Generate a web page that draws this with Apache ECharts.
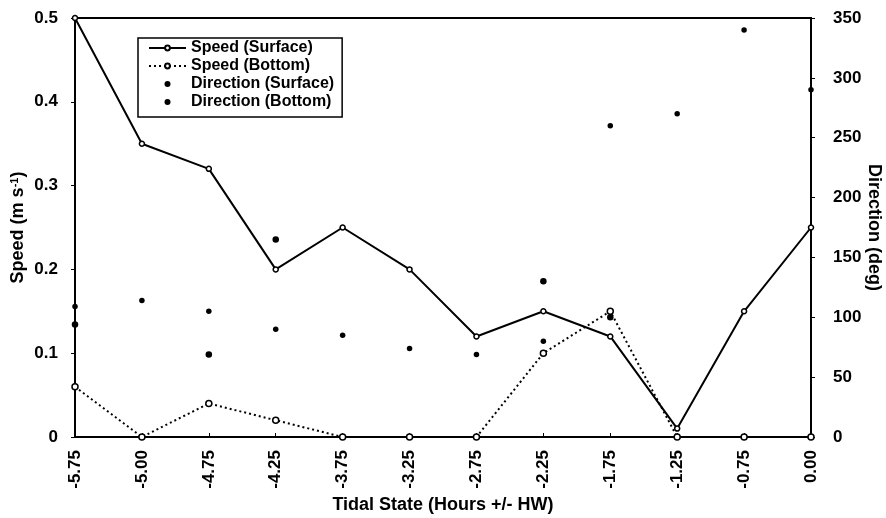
<!DOCTYPE html>
<html><head><meta charset="utf-8">
<script src="https://cdn.jsdelivr.net/npm/echarts@6/dist/echarts.min.js"></script>
<style>html,body{margin:0;padding:0;background:#fff}#c{width:886px;height:518px}</style>
</head><body><div id="c"></div>
<script>
var categories = ['-5.75','-5.00','-4.75','-4.25','-3.75','-3.25','-2.75','-2.25','-1.75','-1.25','-0.75','0.00'];
var speedSurface = [0.5,0.35,0.32,0.2,0.25,0.2,0.12,0.15,0.12,0.01,0.15,0.25];
var speedBottom  = [0.06,0,0.04,0.02,0,0,0,0.1,0.15,0,0,0];
var dirSurface   = [109,114,105,90,85,74,69,80,260,270,340,290];
var dirBottom    = [94,null,69,165,null,null,null,130,100,null,null,null];

var FONT = '"Liberation Sans", Arial, sans-serif';
var chart = echarts.init(document.getElementById('c'));
chart.setOption({
  animation:false,
  backgroundColor:'#fff',
  textStyle:{fontFamily:FONT},
  grid:{left:75,right:75,top:18,bottom:81,show:true,borderColor:'#000',borderWidth:2,
        containLabel:false,outerBoundsMode:'none'},
  legend:{
    orient:'vertical',left:138,top:38,
    borderColor:'#000',borderWidth:1.5,
    padding:[2,8,7,10],itemGap:2,itemWidth:37,itemHeight:6,
    textStyle:{fontFamily:FONT,fontWeight:'bold',fontSize:16,lineHeight:16,color:'#000'},
    data:['Speed (Surface)','Speed (Bottom)','Direction (Surface)','Direction (Bottom)']
  },
  xAxis:{
    type:'category',data:categories,boundaryGap:false,
    name:'Tidal State (Hours +/- HW)',nameLocation:'middle',nameGap:59,nameMoveOverlap:false,
    nameTextStyle:{fontFamily:FONT,fontWeight:'bold',fontSize:18,color:'#000'},
    axisLine:{lineStyle:{color:'#000',width:2}},
    axisTick:{show:true,alignWithLabel:true,length:4,inside:true,lineStyle:{color:'#000'}},
    axisLabel:{rotate:90,margin:13,fontFamily:FONT,fontWeight:'bold',fontSize:17,color:'#000'},
    splitLine:{show:false}
  },
  yAxis:[
    {type:'value',min:0,max:0.5,interval:0.1,position:'left',
     name:'Speed (m s{sup|-1})',nameLocation:'middle',nameGap:47,nameMoveOverlap:false,
     nameTextStyle:{fontFamily:FONT,fontWeight:'bold',fontSize:18,color:'#000',
       rich:{sup:{fontFamily:FONT,fontWeight:'bold',fontSize:11,verticalAlign:'top',padding:[0,0,8,0]}}},
     axisLine:{show:true,lineStyle:{color:'#000',width:2}},
     axisTick:{show:true,length:4,lineStyle:{color:'#000'}},
     axisLabel:{margin:17,fontFamily:FONT,fontWeight:'bold',fontSize:17,color:'#000',
       formatter:function(v){return v===0?'0':v.toFixed(1);}},
     splitLine:{show:false}},
    {type:'value',min:0,max:350,interval:50,position:'right',
     name:'Direction (deg)',nameLocation:'middle',nameGap:54,nameRotate:-90,nameMoveOverlap:false,
     nameTextStyle:{fontFamily:FONT,fontWeight:'bold',fontSize:18,color:'#000'},
     axisLine:{show:true,lineStyle:{color:'#000',width:2}},
     axisTick:{show:true,length:4,lineStyle:{color:'#000'}},
     axisLabel:{margin:22,fontFamily:FONT,fontWeight:'bold',fontSize:17,color:'#000'},
     splitLine:{show:false}}
  ],
  series:[
    {name:'Speed (Surface)',type:'line',yAxisIndex:0,data:speedSurface,
     symbol:'circle',symbolSize:5,showAllSymbol:true,
     lineStyle:{color:'#000',width:2,type:'solid'},
     itemStyle:{color:'#fff',borderColor:'#000',borderWidth:1.5},z:3},
    {name:'Speed (Bottom)',type:'line',yAxisIndex:0,data:speedBottom,
     symbol:'circle',symbolSize:6,showAllSymbol:true,
     lineStyle:{color:'#000',width:2,type:[2,3]},
     itemStyle:{color:'#fff',borderColor:'#000',borderWidth:1.5},z:3},
    {name:'Direction (Surface)',type:'scatter',yAxisIndex:1,data:dirSurface,
     symbol:'circle',symbolSize:5.5,itemStyle:{color:'#000',opacity:1},z:4},
    {name:'Direction (Bottom)',type:'scatter',yAxisIndex:1,data:dirBottom,
     symbol:'circle',symbolSize:6.5,itemStyle:{color:'#000',opacity:1},z:4}
  ]
});
</script></body></html>
